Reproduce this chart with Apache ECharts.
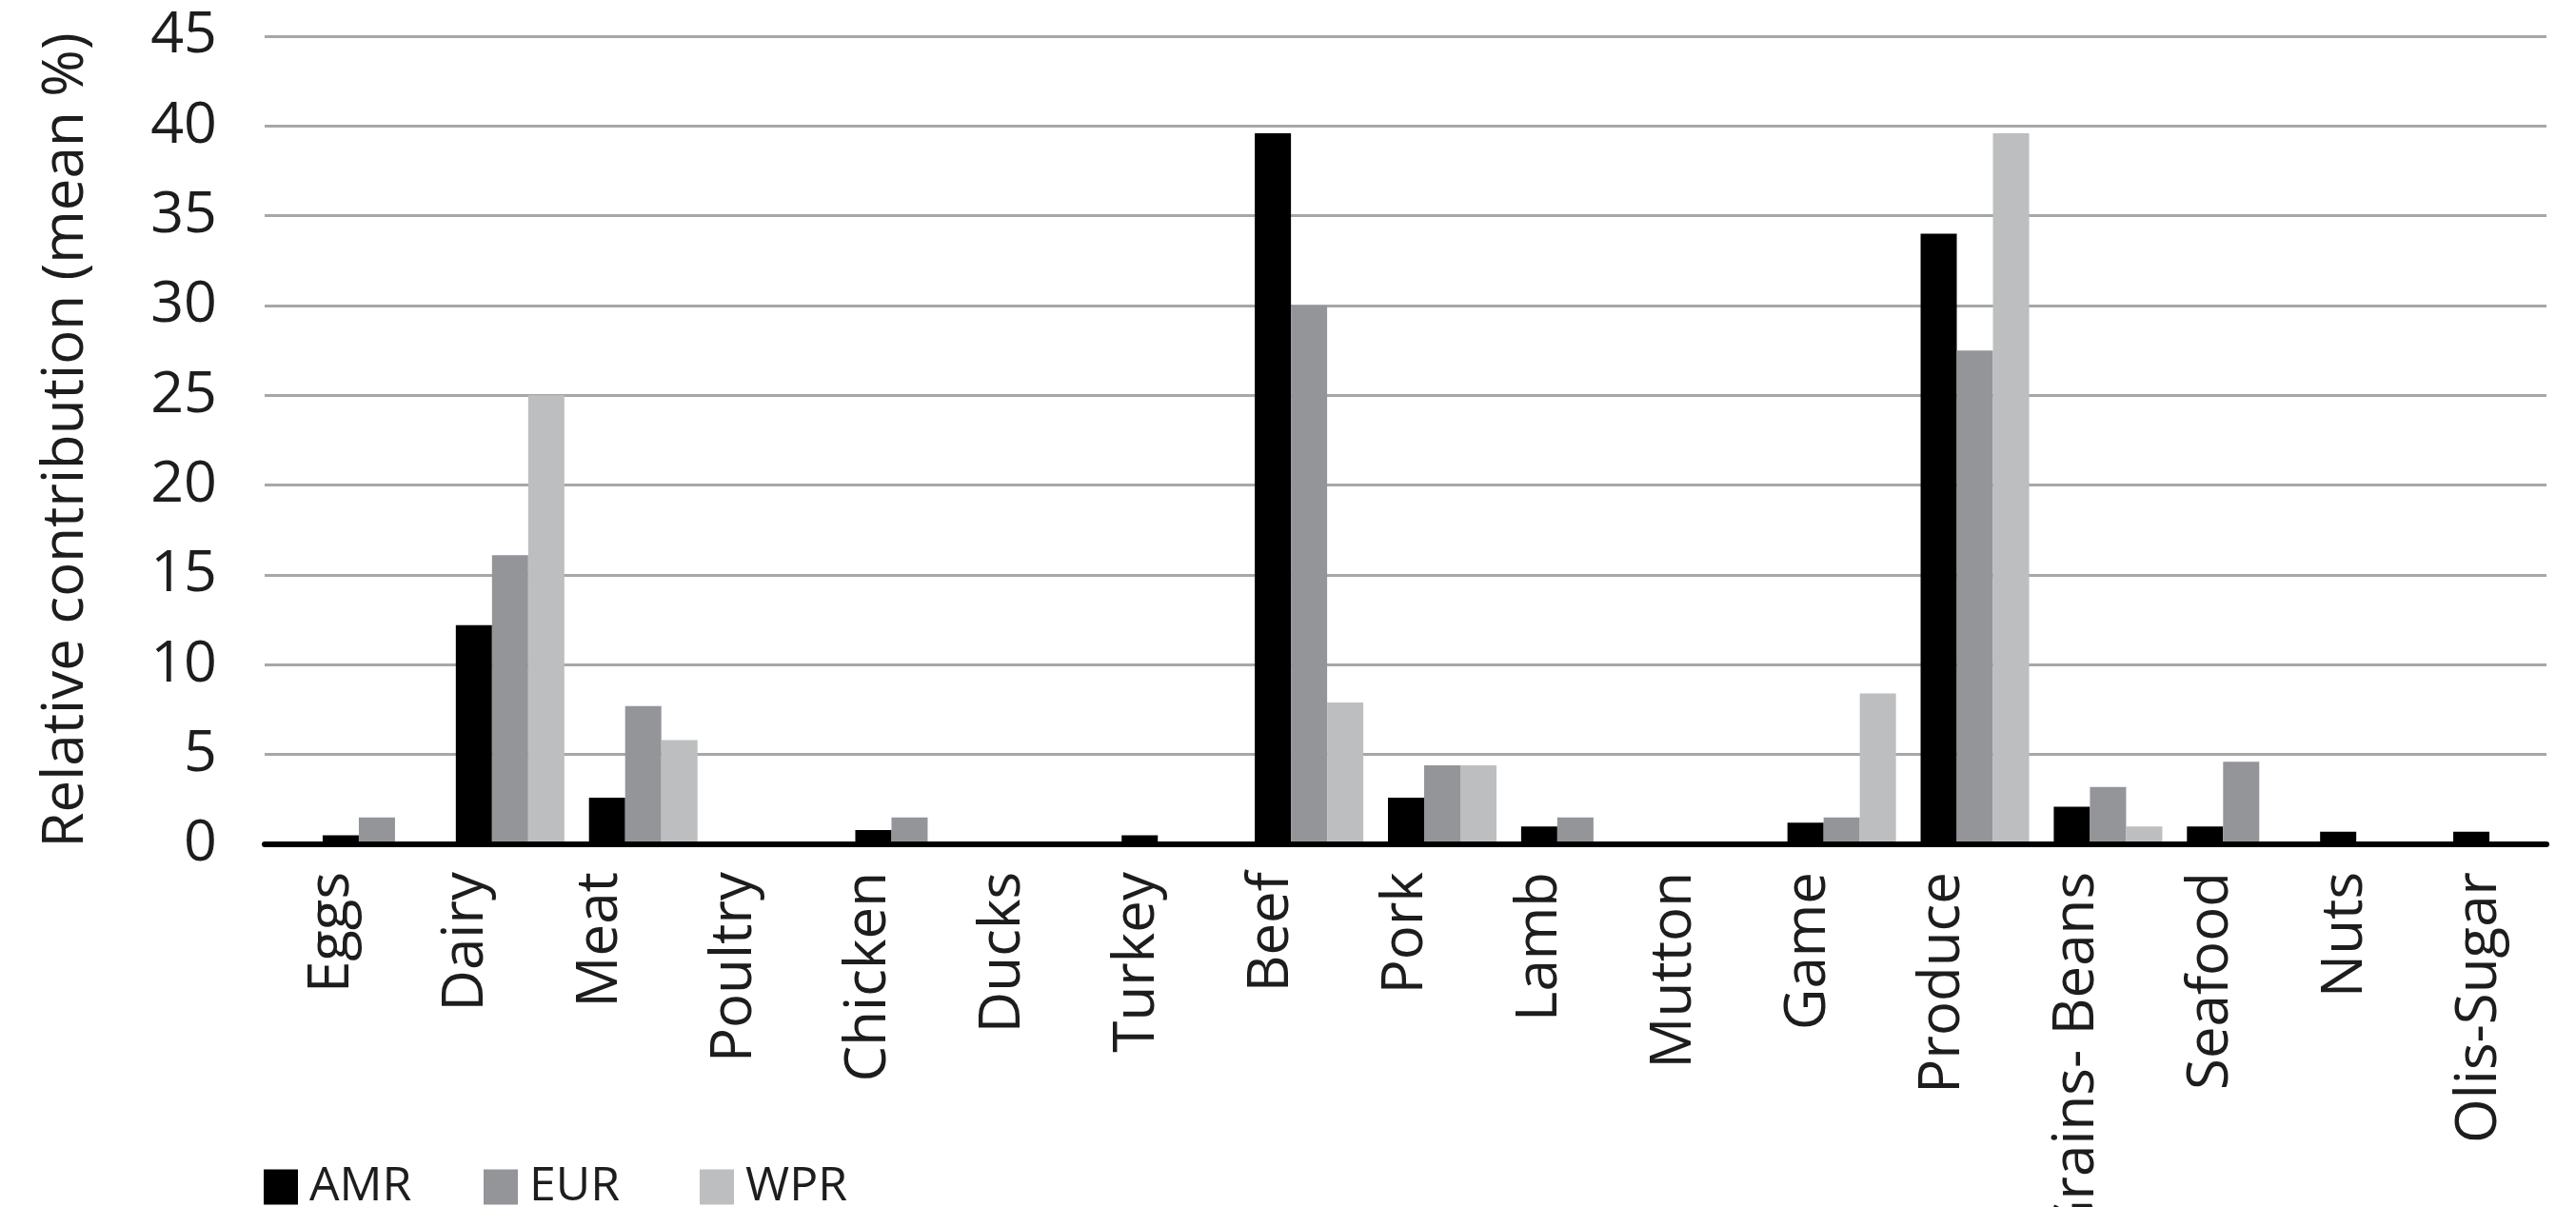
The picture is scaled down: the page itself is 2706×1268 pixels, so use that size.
<!DOCTYPE html>
<html>
<head>
<meta charset="utf-8">
<script src="https://cdn.jsdelivr.net/npm/echarts@6/dist/echarts.min.js"></script>
<style>
  html, body { margin: 0; padding: 0; background: #ffffff; }
  #chart { width: 2706px; height: 1268px; }
</style>
</head>
<body>
<div id="chart"></div>
<script>
// Food categories on the x axis
const categories = ['Eggs', 'Dairy', 'Meat', 'Poultry', 'Chicken', 'Ducks', 'Turkey', 'Beef', 'Pork',
  'Lamb', 'Mutton', 'Game', 'Produce', 'Grains- Beans', 'Seafood', 'Nuts', 'Olis-Sugar'];

// Relative contribution (mean %) per region
const amr = [0.5, 12.2, 2.6, 0, 0.8, 0, 0.5, 39.6, 2.6, 1.0, 0, 1.2, 34.0, 2.1, 1.0, 0.7, 0.7];
const eur = [1.5, 16.1, 7.7, 0, 1.5, 0, 0, 30.0, 4.4, 1.5, 0, 1.5, 27.5, 3.2, 4.6, 0, 0];
const wpr = [0, 25.0, 5.8, 0, 0, 0, 0, 7.9, 4.4, 0, 0, 8.4, 39.6, 1.0, 0, 0, 0];

const regions = ['AMR', 'EUR', 'WPR'];
const regionColors = ['#000000', '#939598', '#bcbec0'];

// Value axis range
const yMin = 0, yMax = 45, yStep = 5;

const FONT = '"Open Sans", "Noto Sans", sans-serif';
const TEXT = '#1e1c1d';

// Left edge of each legend entry
const legendLefts = [272, 503, 730];

const chart = echarts.init(document.getElementById('chart'), null, { renderer: 'canvas' });

const seriesValues = [amr, eur, wpr];

chart.setOption({
  backgroundColor: '#ffffff',
  animation: false,
  textStyle: { fontFamily: FONT },
  // one legend per region so the entries sit on an even pitch
  legend: regions.map((name, i) => ({
    data: [name],
    left: legendLefts[i],
    top: 1217,
    icon: 'rect',
    itemWidth: 36,
    itemHeight: 37,
    selectedMode: false,
    textStyle: { fontSize: 50, color: TEXT, fontFamily: FONT, padding: [0, 0, 0, 7] }
  })),
  grid: [
    // frame: gridlines, baseline, tick and category labels
    { left: 278, right: 31, top: 38, bottom: 381, containLabel: false, outerBoundsMode: 'none' },
    // bars
    { left: 326, right: 2, top: 38, bottom: 381, containLabel: false, outerBoundsMode: 'none' }
  ],
  xAxis: [
    {
      type: 'category',
      gridIndex: 0,
      data: categories,
      boundaryGap: true,
      z: 5,
      axisLine: { show: true, lineStyle: { color: '#000000', width: 6 } },
      axisTick: { show: false },
      axisLabel: {
        interval: 0,
        rotate: 90,
        margin: 29,
        fontSize: 60,
        color: TEXT,
        fontFamily: FONT
      },
      splitLine: { show: false }
    },
    {
      type: 'category',
      gridIndex: 1,
      data: categories,
      boundaryGap: true,
      axisLine: { show: false },
      axisTick: { show: false },
      axisLabel: { show: false },
      splitLine: { show: false }
    }
  ],
  yAxis: [
    {
      type: 'value',
      gridIndex: 0,
      min: yMin,
      max: yMax,
      interval: yStep,
      name: 'Relative contribution (mean %)',
      nameLocation: 'middle',
      nameRotate: 90,
      nameGap: 178,
      nameTextStyle: { fontSize: 60, color: TEXT, fontFamily: FONT },
      axisLine: { show: false },
      axisTick: { show: false },
      axisLabel: { margin: 50, fontSize: 61, color: TEXT, fontFamily: FONT },
      splitLine: { show: true, lineStyle: { color: '#a7a7a7', width: 3 } }
    },
    {
      type: 'value',
      gridIndex: 1,
      min: yMin,
      max: yMax,
      interval: yStep,
      show: false,
      splitLine: { show: false }
    }
  ],
  series: regions.map((name, i) => ({
    name: name,
    type: 'bar',
    xAxisIndex: 1,
    yAxisIndex: 1,
    data: seriesValues[i],
    barGap: '0%',
    barCategoryGap: '18.5%',
    itemStyle: { color: regionColors[i] }
  }))
});
</script>
</body>
</html>
